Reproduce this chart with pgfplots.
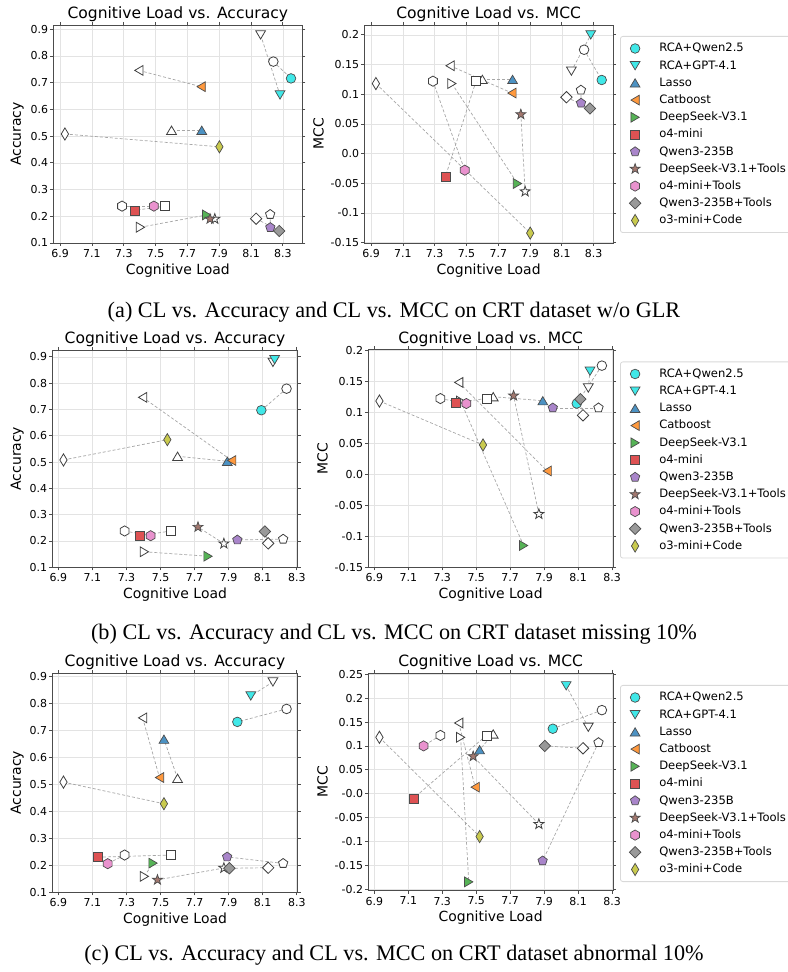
\documentclass[border=0pt]{standalone}
\usepackage{fontspec}
\setmainfont{Liberation Serif}
\newfontfamily\djv{DejaVu Sans}
\usepackage{pgfplots}
\usepackage{pgfplotstable}
\pgfplotsset{compat=1.18}

\definecolor{cCy}{HTML}{40E8E8}
\definecolor{cLa}{HTML}{4C92C3}
\definecolor{cCa}{HTML}{FF993E}
\definecolor{cDS}{HTML}{56B356}
\definecolor{cO4}{HTML}{DE5253}
\definecolor{cQ3}{HTML}{A985CA}
\definecolor{cDT}{HTML}{A3786F}
\definecolor{cOT}{HTML}{E992CE}
\definecolor{cQT}{HTML}{999999}
\definecolor{cOC}{HTML}{C9CA4E}

\pgfdeclareplotmark{mcirc}{\pgfpathcircle{\pgfpointorigin}{\pgfplotmarksize}\pgfusepathqfillstroke}
\pgfdeclareplotmark{mtu}{%
  \pgfpathmoveto{\pgfpoint{0pt}{0.85\pgfplotmarksize}}%
  \pgfpathlineto{\pgfpoint{-\pgfplotmarksize}{-0.85\pgfplotmarksize}}%
  \pgfpathlineto{\pgfpoint{\pgfplotmarksize}{-0.85\pgfplotmarksize}}%
  \pgfpathclose\pgfusepathqfillstroke}
\pgfdeclareplotmark{mtd}{%
  \pgfpathmoveto{\pgfpoint{0pt}{-0.85\pgfplotmarksize}}%
  \pgfpathlineto{\pgfpoint{-\pgfplotmarksize}{0.85\pgfplotmarksize}}%
  \pgfpathlineto{\pgfpoint{\pgfplotmarksize}{0.85\pgfplotmarksize}}%
  \pgfpathclose\pgfusepathqfillstroke}
\pgfdeclareplotmark{mtl}{%
  \pgfpathmoveto{\pgfpoint{-0.85\pgfplotmarksize}{0pt}}%
  \pgfpathlineto{\pgfpoint{0.85\pgfplotmarksize}{\pgfplotmarksize}}%
  \pgfpathlineto{\pgfpoint{0.85\pgfplotmarksize}{-\pgfplotmarksize}}%
  \pgfpathclose\pgfusepathqfillstroke}
\pgfdeclareplotmark{mtr}{%
  \pgfpathmoveto{\pgfpoint{0.85\pgfplotmarksize}{0pt}}%
  \pgfpathlineto{\pgfpoint{-0.85\pgfplotmarksize}{\pgfplotmarksize}}%
  \pgfpathlineto{\pgfpoint{-0.85\pgfplotmarksize}{-\pgfplotmarksize}}%
  \pgfpathclose\pgfusepathqfillstroke}
\pgfdeclareplotmark{msq}{%
  \pgfpathrectangle{\pgfpoint{-\pgfplotmarksize}{-\pgfplotmarksize}}{\pgfpoint{2\pgfplotmarksize}{2\pgfplotmarksize}}%
  \pgfusepathqfillstroke}
\pgfdeclareplotmark{mpent}{%
  \pgfpathmoveto{\pgfpointpolar{90}{\pgfplotmarksize}}%
  \pgfpathlineto{\pgfpointpolar{162}{\pgfplotmarksize}}%
  \pgfpathlineto{\pgfpointpolar{234}{\pgfplotmarksize}}%
  \pgfpathlineto{\pgfpointpolar{306}{\pgfplotmarksize}}%
  \pgfpathlineto{\pgfpointpolar{18}{\pgfplotmarksize}}%
  \pgfpathclose\pgfusepathqfillstroke}
\pgfdeclareplotmark{mhex}{%
  \pgfpathmoveto{\pgfpointpolar{90}{\pgfplotmarksize}}%
  \pgfpathlineto{\pgfpointpolar{150}{\pgfplotmarksize}}%
  \pgfpathlineto{\pgfpointpolar{210}{\pgfplotmarksize}}%
  \pgfpathlineto{\pgfpointpolar{270}{\pgfplotmarksize}}%
  \pgfpathlineto{\pgfpointpolar{330}{\pgfplotmarksize}}%
  \pgfpathlineto{\pgfpointpolar{30}{\pgfplotmarksize}}%
  \pgfpathclose\pgfusepathqfillstroke}
\pgfdeclareplotmark{mstar}{%
  \pgfpathmoveto{\pgfpointpolar{90}{\pgfplotmarksize}}%
  \pgfpathlineto{\pgfpointpolar{126}{0.4\pgfplotmarksize}}%
  \pgfpathlineto{\pgfpointpolar{162}{\pgfplotmarksize}}%
  \pgfpathlineto{\pgfpointpolar{198}{0.4\pgfplotmarksize}}%
  \pgfpathlineto{\pgfpointpolar{234}{\pgfplotmarksize}}%
  \pgfpathlineto{\pgfpointpolar{270}{0.4\pgfplotmarksize}}%
  \pgfpathlineto{\pgfpointpolar{306}{\pgfplotmarksize}}%
  \pgfpathlineto{\pgfpointpolar{342}{0.4\pgfplotmarksize}}%
  \pgfpathlineto{\pgfpointpolar{18}{\pgfplotmarksize}}%
  \pgfpathlineto{\pgfpointpolar{54}{0.4\pgfplotmarksize}}%
  \pgfpathclose\pgfusepathqfillstroke}
\pgfdeclareplotmark{mdD}{%
  \pgfpathmoveto{\pgfpoint{0pt}{\pgfplotmarksize}}%
  \pgfpathlineto{\pgfpoint{\pgfplotmarksize}{0pt}}%
  \pgfpathlineto{\pgfpoint{0pt}{-\pgfplotmarksize}}%
  \pgfpathlineto{\pgfpoint{-\pgfplotmarksize}{0pt}}%
  \pgfpathclose\pgfusepathqfillstroke}
\pgfdeclareplotmark{mdd}{%
  \pgfpathmoveto{\pgfpoint{0pt}{\pgfplotmarksize}}%
  \pgfpathlineto{\pgfpoint{0.6\pgfplotmarksize}{0pt}}%
  \pgfpathlineto{\pgfpoint{0pt}{-\pgfplotmarksize}}%
  \pgfpathlineto{\pgfpoint{-0.6\pgfplotmarksize}{0pt}}%
  \pgfpathclose\pgfusepathqfillstroke}

\pgfplotsset{
  hollow/.style={scatter, only marks, scatter src=explicit symbolic, forget plot, line width=0.8bp,
    scatter/classes={
      Q25={mark=mcirc, mark size=4.8bp, draw=black!75, fill=white},
      GPT={mark=mtd, mark size=4.9bp, draw=black!75, fill=white},
      LAS={mark=mtu, mark size=4.9bp, draw=black!75, fill=white},
      CAT={mark=mtl, mark size=4.9bp, draw=black!75, fill=white},
      DSV={mark=mtr, mark size=4.9bp, draw=black!75, fill=white},
      O4M={mark=msq, mark size=4.5bp, draw=black!75, fill=white},
      Q3B={mark=mpent, mark size=4.9bp, draw=black!75, fill=white},
      DST={mark=mstar, mark size=5.3bp, draw=black!75, fill=white},
      O4T={mark=mhex, mark size=5.1bp, draw=black!75, fill=white},
      Q3T={mark=mdD, mark size=5.7bp, draw=black!75, fill=white},
      O3C={mark=mdd, mark size=6.1bp, draw=black!75, fill=white}}},
  filled/.style={scatter, only marks, scatter src=explicit symbolic, line width=0.7bp,
    scatter/classes={
      Q25={mark=mcirc, mark size=4.8bp, draw=black!70, fill=cCy},
      GPT={mark=mtd, mark size=4.9bp, draw=black!70, fill=cCy},
      LAS={mark=mtu, mark size=4.9bp, draw=black!70, fill=cLa},
      CAT={mark=mtl, mark size=4.9bp, draw=black!70, fill=cCa},
      DSV={mark=mtr, mark size=4.9bp, draw=black!70, fill=cDS},
      O4M={mark=msq, mark size=4.5bp, draw=black!70, fill=cO4},
      Q3B={mark=mpent, mark size=4.9bp, draw=black!70, fill=cQ3},
      DST={mark=mstar, mark size=5.3bp, draw=black!70, fill=cDT},
      O4T={mark=mhex, mark size=5.1bp, draw=black!70, fill=cOT},
      Q3T={mark=mdD, mark size=5.7bp, draw=black!70, fill=cQT},
      O3C={mark=mdd, mark size=6.1bp, draw=black!70, fill=cOC}}},
  lnk/.style={forget plot, mark=none, draw=black!35, line width=0.7bp, dash pattern=on 3bp off 2bp,
    quiver={u=\thisrow{xn}-\thisrow{xb}, v=\thisrow{yn}-\thisrow{yb},
      every arrow/.append style={draw=black!35, line width=0.7bp, dash pattern=on 3bp off 2bp}}},
  cl/.style={scale only axis,
    xtick={6.9,7.1,7.3,7.5,7.7,7.9,8.1,8.3},
    xticklabels={6.9,7.1,7.3,7.5,7.7,7.9,8.1,8.3},
    grid=major, grid style={draw=black!11, line width=0.6bp},
    axis line style={draw=black!70, line width=0.9bp},
    tick align=outside, major tick length=3bp, tick style={draw=black!70, line width=0.8bp},
    ticklabel style={font=\djv\fontsize{11}{13}\selectfont, inner sep=0pt},
    xticklabel style={anchor=north, yshift=-3bp},
    yticklabel style={anchor=east, xshift=-2bp},
    title style={font=\djv\fontsize{15.6}{18}\selectfont, at={(0.5,1)}, anchor=base, yshift=0.5bp, inner sep=0pt},
    xlabel style={font=\djv\fontsize{14}{16}\selectfont, at={(0.5,0)}, anchor=north, yshift=-20.5bp, inner sep=0pt},
    ylabel style={font=\djv\fontsize{14}{16}\selectfont, anchor=south, inner sep=0pt},
    xlabel={Cognitive Load}},
  acc/.style={cl, ymin=0.1, title={Cognitive Load vs. Accuracy}, ylabel={Accuracy},
    ytick={0.1,0.2,0.3,0.4,0.5,0.6,0.7,0.8,0.9},
    yticklabels={0.1,0.2,0.3,0.4,0.5,0.6,0.7,0.8,0.9}},
  mcc/.style={cl, title={Cognitive Load vs. MCC}, ylabel={MCC},
    legend cell align=left,
    legend style={draw=black!15, line width=0.8bp, rounded corners=2.5bp, fill=white,
      font=\djv\fontsize{11.6}{13}\selectfont, inner xsep=9bp, inner ysep=3.5bp, row sep=0bp,
      nodes={inner sep=0pt, text height=12bp, text depth=5.2bp},
      /tikz/every odd column/.append style={column sep=18.5bp}}}
}

\pgfplotstableread{
cls xb yb xn yn
Q25 8.240 0.779 8.351 0.716
GPT 8.160 0.879 8.282 0.654
LAS 7.600 0.522 7.790 0.522
CAT 7.395 0.746 7.786 0.685
DSV 7.405 0.159 7.821 0.205
O4M 7.560 0.238 7.367 0.222
Q3B 8.220 0.207 8.221 0.158
DST 7.872 0.190 7.842 0.190
O4T 7.289 0.238 7.489 0.238
Q3T 8.132 0.191 8.277 0.145
O3C 6.930 0.508 7.901 0.460
}\tAacc
\pgfplotstableread{
cls xb yb xn yn
Q25 8.240 0.175 8.351 0.124
GPT 8.160 0.139 8.282 0.200
LAS 7.600 0.125 7.790 0.125
CAT 7.397 0.148 7.786 0.102
DSV 7.408 0.118 7.821 -0.0505
O4M 7.560 0.122 7.367 -0.039
Q3B 8.220 0.107 8.221 0.085
DST 7.869 -0.064 7.842 0.066
O4T 7.289 0.122 7.489 -0.028
Q3T 8.129 0.095 8.277 0.076
O3C 6.930 0.118 7.901 -0.134
}\tAmcc
\pgfplotstableread{
cls xb yb xn yn
Q25 8.240 0.779 8.092 0.697
GPT 8.160 0.879 8.170 0.889
LAS 7.600 0.522 7.892 0.503
CAT 7.395 0.746 7.918 0.506
DSV 7.405 0.159 7.779 0.142
O4M 7.560 0.238 7.378 0.220
Q3B 8.220 0.207 7.951 0.204
DST 7.872 0.190 7.720 0.253
O4T 7.289 0.238 7.442 0.220
Q3T 8.132 0.191 8.113 0.236
O3C 6.930 0.508 7.540 0.585
}\tBacc
\pgfplotstableread{
cls xb yb xn yn
Q25 8.240 0.175 8.092 0.114
GPT 8.160 0.139 8.170 0.166
LAS 7.600 0.125 7.892 0.1185
CAT 7.397 0.148 7.918 0.0054
DSV 7.408 0.118 7.779 -0.1146
O4M 7.560 0.122 7.378 0.1158
Q3B 8.220 0.107 7.951 0.107
DST 7.869 -0.064 7.720 0.1266
O4T 7.289 0.122 7.442 0.114
Q3T 8.129 0.095 8.113 0.121
O3C 6.930 0.118 7.540 0.0473
}\tBmcc
\pgfplotstableread{
cls xb yb xn yn
Q25 8.240 0.779 7.951 0.731
GPT 8.160 0.879 8.030 0.827
LAS 7.600 0.522 7.520 0.667
CAT 7.395 0.746 7.494 0.525
DSV 7.405 0.159 7.456 0.208
O4M 7.560 0.238 7.130 0.230
Q3B 8.220 0.207 7.891 0.231
DST 7.872 0.190 7.482 0.146
O4T 7.289 0.238 7.190 0.206
Q3T 8.132 0.191 7.904 0.189
O3C 6.930 0.508 7.520 0.428
}\tCacc
\pgfplotstableread{
cls xb yb xn yn
Q25 8.240 0.175 7.951 0.136
GPT 8.160 0.139 8.030 0.226
LAS 7.600 0.125 7.520 0.092
CAT 7.397 0.148 7.494 0.0135
DSV 7.408 0.118 7.456 -0.185
O4M 7.560 0.122 7.130 -0.010
Q3B 8.220 0.107 7.891 -0.141
DST 7.869 -0.064 7.482 0.078
O4T 7.289 0.122 7.190 0.100
Q3T 8.129 0.095 7.904 0.100
O3C 6.930 0.118 7.520 -0.090
}\tCmcc

\newcommand\legendlist{\legend{RCA+Qwen2.5,RCA+GPT-4.1,Lasso,Catboost,DeepSeek-V3.1,o4-mini,Qwen3-235B,DeepSeek-V3.1+Tools,o4-mini+Tools,Qwen3-235B+Tools,o3-mini+Code}}

\begin{document}
\begin{tikzpicture}
\useasboundingbox (0bp,0bp) rectangle (788bp,972bp);

% ---------- row (a)
\begin{axis}[acc, at={(53.3bp,729bp)}, anchor=south west, width=249bp, height=218bp,
  xmin=6.857, xmax=8.422, ymax=0.916,
  ylabel style={at={([xshift=-29.3bp]axis description cs:0,0.5)}}]
\addplot[lnk] table[x=xb, y=yb] {\tAacc};
\addplot[hollow] table[x=xb, y=yb, meta=cls] {\tAacc};
\addplot[filled, forget plot] table[x=xn, y=yn, meta=cls] {\tAacc};
\end{axis}
\begin{axis}[mcc, at={(364.3bp,729bp)}, anchor=south west, width=248.7bp, height=218bp,
  xmin=6.857, xmax=8.422, ymin=-0.1507, ymax=0.2167,
  ytick={-0.15,-0.1,-0.05,0,0.05,0.1,0.15,0.2},
  yticklabels={-0.15,-0.1,-0.05,0.0,0.05,0.1,0.15,0.2},
  ylabel style={at={([xshift=-40.3bp]axis description cs:0,0.5)}},
  legend style={at={([xshift=7bp,yshift=-11bp]axis description cs:1,1)}, anchor=north west}]
\addplot[lnk] table[x=xb, y=yb] {\tAmcc};
\addplot[hollow] table[x=xb, y=yb, meta=cls] {\tAmcc};
\addplot[filled] table[x=xn, y=yn, meta=cls] {\tAmcc};
\legendlist
\end{axis}
\node[anchor=base, inner sep=0pt, font=\fontsize{22.3}{26}\selectfont] at (394bp,654bp)
  {(a) CL vs. Accuracy and CL vs. MCC on CRT dataset w/o GLR};

% ---------- row (b)
\begin{axis}[acc, at={(52.3bp,404.7bp)}, anchor=south west, width=245.4bp, height=217.3bp,
  xmin=6.8645, xmax=8.3055, ymax=0.926,
  ylabel style={at={([xshift=-28.3bp]axis description cs:0,0.5)}}]
\addplot[lnk] table[x=xb, y=yb] {\tBacc};
\addplot[hollow] table[x=xb, y=yb, meta=cls] {\tBacc};
\addplot[filled, forget plot] table[x=xn, y=yn, meta=cls] {\tBacc};
\end{axis}
\begin{axis}[mcc, at={(368.3bp,404.5bp)}, anchor=south west, width=244.7bp, height=218bp,
  xmin=6.8645, xmax=8.3055, ymin=-0.15, ymax=0.201,
  ytick={-0.15,-0.1,-0.05,0,0.05,0.1,0.15,0.2},
  yticklabels={-0.15,-0.1,-0.05,0.0,0.05,0.1,0.15,0.2},
  ylabel style={at={([xshift=-40.3bp]axis description cs:0,0.5)}},
  legend style={at={([xshift=7bp,yshift=-12bp]axis description cs:1,1)}, anchor=north west}]
\addplot[lnk] table[x=xb, y=yb] {\tBmcc};
\addplot[hollow] table[x=xb, y=yb, meta=cls] {\tBmcc};
\addplot[filled] table[x=xn, y=yn, meta=cls] {\tBmcc};
\legendlist
\end{axis}
\node[anchor=base, inner sep=0pt, font=\fontsize{22.3}{26}\selectfont] at (394bp,332bp)
  {(b) CL vs. Accuracy and CL vs. MCC on CRT dataset missing 10\%};

% ---------- row (c)
\begin{axis}[acc, at={(52.3bp,79.7bp)}, anchor=south west, width=245.4bp, height=219bp,
  xmin=6.8645, xmax=8.3055, ymax=0.911,
  ylabel style={at={([xshift=-28.3bp]axis description cs:0,0.5)}}]
\addplot[lnk] table[x=xb, y=yb] {\tCacc};
\addplot[hollow] table[x=xb, y=yb, meta=cls] {\tCacc};
\addplot[filled, forget plot] table[x=xn, y=yn, meta=cls] {\tCacc};
\end{axis}
\begin{axis}[mcc, at={(368.3bp,81.3bp)}, anchor=south west, width=244.7bp, height=217.7bp,
  xmin=6.8645, xmax=8.3055, ymin=-0.2035, ymax=0.2528,
  ytick={-0.2,-0.15,-0.1,-0.05,0,0.05,0.1,0.15,0.2,0.25},
  yticklabels={-0.2,-0.15,-0.1,-0.05,-0.0,0.05,0.1,0.15,0.2,0.25},
  ylabel style={at={([xshift=-40.3bp]axis description cs:0,0.5)}},
  legend style={at={([xshift=7bp,yshift=-12bp]axis description cs:1,1)}, anchor=north west}]
\addplot[lnk] table[x=xb, y=yb] {\tCmcc};
\addplot[hollow] table[x=xb, y=yb, meta=cls] {\tCmcc};
\addplot[filled] table[x=xn, y=yn, meta=cls] {\tCmcc};
\legendlist
\end{axis}
\node[anchor=base, inner sep=0pt, font=\fontsize{22.3}{26}\selectfont] at (394bp,12bp)
  {(c) CL vs. Accuracy and CL vs. MCC on CRT dataset abnormal 10\%};
\end{tikzpicture}
\end{document}
